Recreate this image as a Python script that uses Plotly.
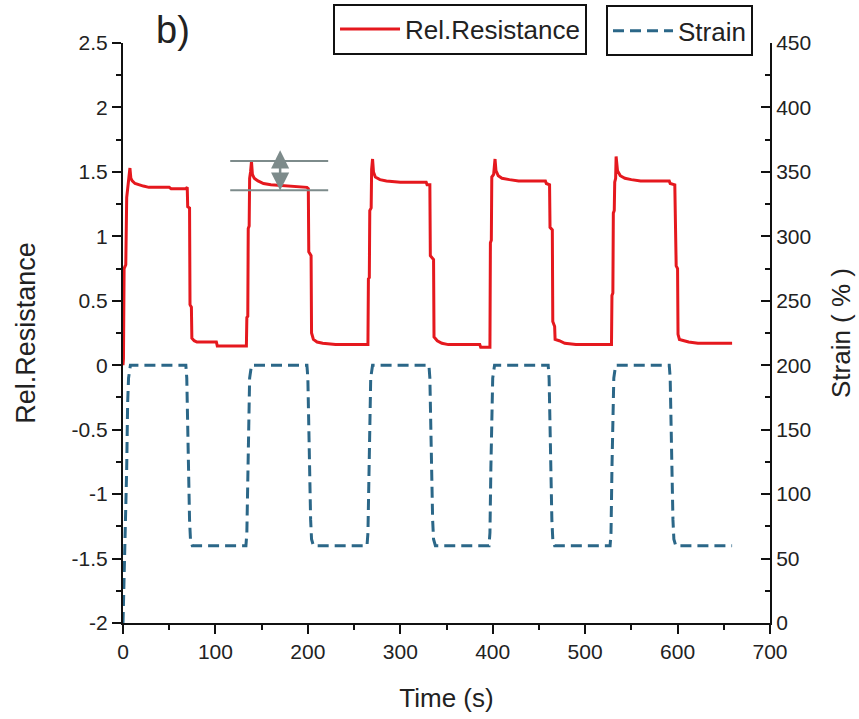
import plotly.graph_objects as go

# ---- data ----
res_time = [0, 0.5, 1.2, 3, 4, 5.5, 6.5, 7.5, 8.5, 10, 13, 17, 22, 28, 50, 52, 68, 69.5, 70, 72, 72.5, 74, 74.5, 77, 80, 101, 102, 133.5,
            134, 135, 135.5, 136.5, 137, 138, 139, 140, 142, 146, 152, 160, 185, 199, 200.5, 201, 203.5, 204, 206, 210, 216, 230, 265,
            265.5, 266.5, 267, 268.5, 269, 270, 271, 273, 278, 285, 300, 328, 329, 332, 332.5, 336, 336.5, 340, 345, 352, 386, 387, 397,
            397.5, 398.5, 399, 401, 402.5, 403.5, 406, 410, 418, 428, 457, 458, 461.5, 462, 464.5, 465, 467, 467.5, 472, 478, 490, 528.5,
            529, 530, 530.5, 531.5, 532, 533, 533.5, 535, 538, 543, 550, 560, 591, 592, 597, 598.5, 600, 600.5, 602, 606, 612, 622, 659]
res_value = [0.0, 0.05, 0.75, 0.78, 1.30, 1.40, 1.42, 1.53, 1.45, 1.43, 1.41, 1.40, 1.39, 1.38, 1.38, 1.37, 1.37, 1.38, 1.23, 1.22, 0.47, 0.45, 0.21, 0.19, 0.18, 0.18, 0.15, 0.15,
             0.37, 0.38, 1.06, 1.08, 1.45, 1.50, 1.58, 1.48, 1.45, 1.43, 1.41, 1.40, 1.39, 1.38, 1.37, 0.88, 0.85, 0.25, 0.20, 0.18, 0.17, 0.16, 0.16,
             0.67, 0.68, 1.20, 1.22, 1.52, 1.60, 1.50, 1.46, 1.44, 1.43, 1.42, 1.42, 1.40, 1.40, 0.85, 0.82, 0.22, 0.19, 0.17, 0.16, 0.16, 0.14, 0.14,
             0.95, 0.97, 1.46, 1.48, 1.60, 1.51, 1.47, 1.45, 1.44, 1.43, 1.43, 1.41, 1.40, 1.07, 1.05, 0.34, 0.30, 0.20, 0.19, 0.17, 0.16, 0.16,
             0.54, 0.56, 1.18, 1.20, 1.42, 1.45, 1.62, 1.51, 1.47, 1.45, 1.44, 1.43, 1.43, 1.41, 1.40, 0.77, 0.75, 0.24, 0.20, 0.19, 0.18, 0.17, 0.17]

strain_time = [0, 2, 4, 5, 6, 8, 68, 69, 70, 71, 72, 73, 75, 133, 134, 135, 136, 137, 139, 199, 200, 201, 202, 203, 204, 206,
               264, 265, 266, 267, 268, 270, 331, 332, 333, 334, 335, 336, 338, 396, 397, 398, 399, 400, 402, 460, 461, 462, 463,
               464, 465, 467, 527, 528, 529, 530, 531, 533, 591, 592, 593, 594, 595, 596, 598, 659]
strain_value = [0, 50, 120, 170, 190, 200, 200, 190, 150, 110, 80, 65, 60, 60, 70, 110, 160, 190, 200, 200, 190, 150, 110, 80, 65, 60,
                60, 70, 110, 160, 190, 200, 200, 190, 150, 110, 80, 65, 60, 60, 70, 120, 170, 190, 200, 200, 190, 150, 110,
                80, 65, 60, 60, 70, 120, 170, 190, 200, 200, 190, 150, 110, 80, 65, 60, 60]

x_ticks = [0, 100, 200, 300, 400, 500, 600, 700]
y_ticks = [-2, -1.5, -1, -0.5, 0, 0.5, 1, 1.5, 2, 2.5]
y_ticktext = ["-2", "-1.5", "-1", "-0.5", "0", "0.5", "1", "1.5", "2", "2.5"]
y2_ticks = [0, 50, 100, 150, 200, 250, 300, 350, 400, 450]

# marker of relaxation (levels)
band_t = [116, 222]
band_levels = [1.584, 1.357]
arrow_t = 170
arrow_ends = [1.667, 1.343]

RED = "#e5181e"
BLUE = "#2b6788"
GRAY = "#7d8b8b"
FONT = "Liberation Sans, Arial, sans-serif"
TXT = "#222222"

fig = go.Figure()
fig.add_trace(go.Scatter(x=res_time, y=res_value, mode="lines", name="Rel.Resistance",
                         line=dict(color=RED, width=3), legend="legend"))
fig.add_trace(go.Scatter(x=strain_time, y=strain_value, mode="lines", name="Strain", yaxis="y2",
                         line=dict(color=BLUE, width=3, dash="11px,6px"), legend="legend2"))

for lv in band_levels:
    fig.add_shape(type="line", x0=band_t[0], x1=band_t[1], y0=lv, y1=lv, xref="x", yref="y",
                  line=dict(color=GRAY, width=2))
fig.add_annotation(x=arrow_t, y=arrow_ends[0], ax=arrow_t, ay=arrow_ends[1], xref="x", yref="y",
                   axref="x", ayref="y", showarrow=True, arrowhead=2, arrowside="end+start",
                   arrowsize=1.45, arrowwidth=2.5, arrowcolor=GRAY, text="", standoff=0, startstandoff=0)

fig.add_annotation(text="b)", x=0.077, y=1.022, xref="paper", yref="paper", showarrow=False,
                   font=dict(size=38, family=FONT, color=TXT), xanchor="center", yanchor="middle")

axis_common = dict(showline=True, linecolor="#111111", linewidth=2, showgrid=False, zeroline=False,
                   tickcolor="#111111", tickwidth=2, ticklen=9,
                   tickfont=dict(size=21, family=FONT, color=TXT))

fig.update_layout(
    width=859, height=719, autosize=False,
    margin=dict(l=123, r=89, t=43, b=96, pad=0, autoexpand=False),
    paper_bgcolor="white", plot_bgcolor="white",
    font=dict(family=FONT, color=TXT),
    xaxis=dict(range=[0, 700], tickvals=x_ticks, ticks="outside",
               minor=dict(dtick=50, tick0=0, ticklen=5, ticks="outside", tickcolor="#111111", tickwidth=2),
               title=dict(text="Time (s)", font=dict(size=26, family=FONT, color=TXT), standoff=27),
               **axis_common),
    yaxis=dict(range=[-2, 2.5], tickvals=y_ticks, ticktext=y_ticktext, ticks="outside",
               minor=dict(dtick=0.25, tick0=0, ticklen=5, ticks="outside", tickcolor="#111111", tickwidth=2),
               title=dict(text="Rel.Resistance", font=dict(size=27, family=FONT, color=TXT), standoff=28),
               **axis_common),
    yaxis2=dict(range=[0, 450], tickvals=y2_ticks, ticks="inside", overlaying="y", side="right",
                minor=dict(dtick=25, tick0=0, ticklen=5, ticks="inside", tickcolor="#111111", tickwidth=2),
                title=dict(text="Strain ( % )", font=dict(size=26, family=FONT, color=TXT), standoff=22),
                **axis_common),
    legend=dict(x=0.3246, y=1.068, xanchor="left", yanchor="top", bgcolor="white",
                bordercolor="#111111", borderwidth=2, font=dict(size=26, family=FONT, color=TXT),
                itemwidth=60, tracegroupgap=0),
    legend2=dict(x=0.7465, y=1.065, xanchor="left", yanchor="top", bgcolor="white",
                 bordercolor="#111111", borderwidth=2, font=dict(size=26, family=FONT, color=TXT),
                 itemwidth=60, tracegroupgap=0),
    showlegend=True,
)

fig.write_html("out.html")
